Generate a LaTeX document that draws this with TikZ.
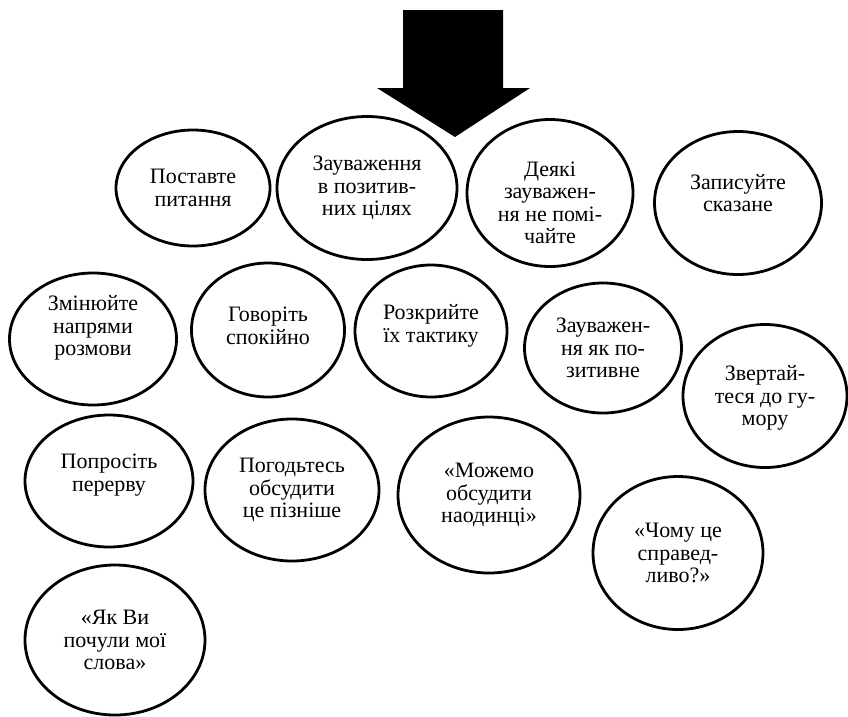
\documentclass[tikz,border=0pt]{standalone}
\usepackage{fontspec}
\setmainfont{Liberation Serif}
\usetikzlibrary{shapes.geometric}

\begin{document}
\begin{tikzpicture}[x=1pt,y=-1pt,line width=2.8pt,
  bubble/.style={draw,ellipse,inner sep=0pt},
  txt/.style={align=center,inner sep=0pt,font=\fontsize{22}{22.5}\selectfont}]
  \useasboundingbox (0,0) rectangle (848,716);
  % big arrow on top
  \fill (403,10)--(503,10)--(503,88)--(530,88)--(455,137)--(377,88)--(403,88)--cycle;
  % name/x/y/width/height/text shift/text
  \foreach \n/\x/\y/\w/\h/\s/\t in {
    postavte/193/188/154/116/0/{Поставте\\питання},
    zauvazhennia/367/188/180/143/0/{Зауваження\\в позитив-\\них цілях},
    deiaki/550/193/166/147/-10/{Деякі\\зауважен-\\ня не помі-\\чайте},
    zapysuite/738/203/167/143/10/{Записуйте\\сказане},
    zminiuite/93/339/167/132/11/{Змінюйте\\напрями\\розмови},
    hovoryt/268/330/153/134/4/{Говоріть\\спокійно},
    rozkryite/431/331/152/132/5/{Розкрийте\\їх тактику},
    pozytyvne/603/348/157/130/0/{Зауважен-\\ня як по-\\зитивне},
    humor/765/396/164/143/-2/{Звертай-\\теся до гу-\\мору},
    poprosit/109/481/168/132/6/{Попросіть\\перерву},
    pohodtes/292/490/174/142/0/{Погодьтесь\\обсудити\\це пізніше},
    mozhemo/489/495/182/156/0/{«Можемо\\обсудити\\наодинці»},
    chomu/678/553/170/153/0/{«Чому це\\справед-\\ливо?»},
    yakvy/115/640/180/150/0/{«Як Ви\\почули мої\\слова»}}{
    \node[bubble,minimum width=\w,minimum height=\h] (\n) at (\x,\y) {};
    \node[txt,yshift=\s] (\n-text) at (\n) {\t};
  }
\end{tikzpicture}
\end{document}
